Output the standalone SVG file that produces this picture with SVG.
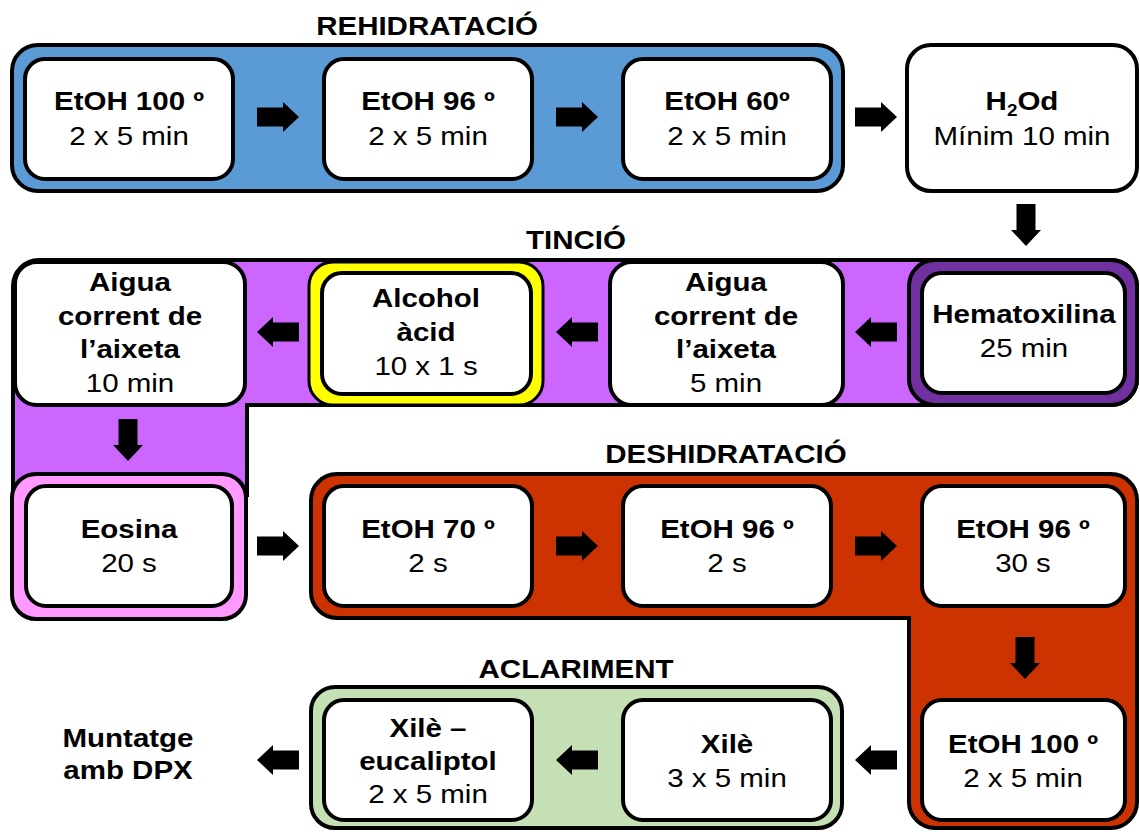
<svg xmlns="http://www.w3.org/2000/svg" xmlns:xlink="http://www.w3.org/1999/xlink" width="1140" height="832" viewBox="0 0 1140 832">
<defs>
<style>
.bx{fill:#fff;stroke:#000;stroke-width:4}
.grp{stroke:#000;stroke-width:4}
text{font-family:"Liberation Sans",Arial,sans-serif;font-size:25px;text-anchor:middle;fill:#000}
.b{font-weight:bold}
.r{font-weight:normal}
.ttl{font-weight:bold}
</style>
<path id="ar" d="M0,-9.5 H26 V-15 L42,0 L26,15 V9.5 H0 Z" fill="#000"/>
</defs>
<rect width="1140" height="832" fill="#fff"/>

<!-- group backgrounds -->
<g id="grp-rehidratacio">
<rect class="grp" x="12" y="45" width="831" height="146" rx="26" fill="#5B9BD5"/>
<g transform="matrix(1.18 0 0 1 427 0)"><text class="ttl" x="0" y="35">REHIDRATACIÓ</text></g>
</g>
<g id="grp-tincio">
<path class="grp" fill="#CC66FF" d="M39,260 H1111 A26,26 0 0 1 1137,286 V379 A26,26 0 0 1 1111,405 H247 V495 H13 V286 A26,26 0 0 1 39,260 Z"/>
<g transform="matrix(1.18 0 0 1 576 0)"><text class="ttl" x="0" y="249">TINCIÓ</text></g>
</g>
<g id="grp-deshidratacio">
<path class="grp" fill="#CC3300" d="M337,474 H1111 A26,26 0 0 1 1137,500 V802 A26,26 0 0 1 1111,828 H935 A26,26 0 0 1 909,802 V618 H337 A26,26 0 0 1 311,592 V500 A26,26 0 0 1 337,474 Z"/>
<g transform="matrix(1.18 0 0 1 726 0)"><text class="ttl" x="0" y="463">DESHIDRATACIÓ</text></g>
</g>
<g id="grp-aclariment">
<rect class="grp" x="311" y="687" width="531" height="141" rx="24" fill="#C5E0B4"/>
<g transform="matrix(1.18 0 0 1 576 0)"><text class="ttl" x="0" y="678">ACLARIMENT</text></g>
</g>

<!-- row 1 -->
<g id="n-etoh100a">
<rect class="bx" x="25" y="59" width="208" height="120" rx="20"/>
<g transform="matrix(1.18 0 0 1 129 0)"><text class="b" x="0" y="110">EtOH 100 º</text><text class="r" x="0" y="145">2 x 5 min</text></g>
</g>
<g id="n-etoh96a">
<rect class="bx" x="324" y="59" width="208" height="120" rx="20"/>
<g transform="matrix(1.18 0 0 1 428 0)"><text class="b" x="0" y="110">EtOH 96 º</text><text class="r" x="0" y="145">2 x 5 min</text></g>
</g>
<g id="n-etoh60">
<rect class="bx" x="623" y="59" width="208" height="120" rx="20"/>
<g transform="matrix(1.18 0 0 1 727 0)"><text class="b" x="0" y="110">EtOH 60º</text><text class="r" x="0" y="145">2 x 5 min</text></g>
</g>
<g id="n-h2od">
<rect class="bx" x="907" y="45" width="230" height="146" rx="24"/>
<g transform="matrix(1.18 0 0 1 1022 0)"><text class="b" x="0" y="110">H<tspan font-size="16" dy="6">2</tspan><tspan dy="-6">Od</tspan></text><text class="r" x="0" y="145">Mínim 10 min</text></g>
</g>

<!-- row 2 -->
<g id="n-aigua10">
<rect class="bx" x="15" y="262" width="230" height="143" rx="22"/>
<g transform="matrix(1.18 0 0 1 130 0)"><text class="b" x="0" y="291">Aigua</text><text class="b" x="0" y="325">corrent de</text><text class="b" x="0" y="358">l’aixeta</text><text class="r" x="0" y="392">10 min</text></g>
</g>
<g id="n-alcohol">
<rect x="309" y="262" width="234" height="143" rx="24" fill="#FFFF00" stroke="#000" stroke-width="3"/>
<rect class="bx" x="322" y="273" width="209" height="121" rx="20"/>
<g transform="matrix(1.18 0 0 1 426 0)"><text class="b" x="0" y="307">Alcohol</text><text class="b" x="0" y="341">àcid</text><text class="r" x="0" y="375">10 x 1 s</text></g>
</g>
<g id="n-aigua5">
<rect class="bx" x="610" y="262" width="233" height="143" rx="22"/>
<g transform="matrix(1.18 0 0 1 726 0)"><text class="b" x="0" y="291">Aigua</text><text class="b" x="0" y="325">corrent de</text><text class="b" x="0" y="358">l’aixeta</text><text class="r" x="0" y="392">5 min</text></g>
</g>
<g id="n-hematoxilina">
<rect class="grp" x="909" y="260" width="228" height="145" rx="26" fill="#7030A0"/>
<rect class="bx" x="922" y="273" width="203" height="120" rx="20"/>
<g transform="matrix(1.18 0 0 1 1024 0)"><text class="b" x="0" y="323">Hematoxilina</text><text class="r" x="0" y="357">25 min</text></g>
</g>

<!-- row 3 -->
<g id="n-eosina">
<rect class="grp" x="12" y="474" width="234" height="145" rx="24" fill="#FF99FF"/>
<rect class="bx" x="26" y="486" width="206" height="120" rx="20"/>
<g transform="matrix(1.18 0 0 1 129 0)"><text class="b" x="0" y="538">Eosina</text><text class="r" x="0" y="572">20 s</text></g>
</g>
<g id="n-etoh70">
<rect class="bx" x="324" y="486" width="208" height="120" rx="20"/>
<g transform="matrix(1.18 0 0 1 428 0)"><text class="b" x="0" y="538">EtOH 70 º</text><text class="r" x="0" y="572">2 s</text></g>
</g>
<g id="n-etoh96b">
<rect class="bx" x="623" y="486" width="208" height="120" rx="20"/>
<g transform="matrix(1.18 0 0 1 727 0)"><text class="b" x="0" y="538">EtOH 96 º</text><text class="r" x="0" y="572">2 s</text></g>
</g>
<g id="n-etoh96c">
<rect class="bx" x="922" y="486" width="203" height="120" rx="20"/>
<g transform="matrix(1.18 0 0 1 1023 0)"><text class="b" x="0" y="538">EtOH 96 º</text><text class="r" x="0" y="572">30 s</text></g>
</g>
<g id="n-etoh100b">
<rect class="bx" x="922" y="700" width="203" height="120" rx="20"/>
<g transform="matrix(1.18 0 0 1 1023 0)"><text class="b" x="0" y="753">EtOH 100 º</text><text class="r" x="0" y="787">2 x 5 min</text></g>
</g>

<!-- row 4 -->
<g id="n-xile">
<rect class="bx" x="623" y="700" width="208" height="120" rx="20"/>
<g transform="matrix(1.18 0 0 1 727 0)"><text class="b" x="0" y="753">Xilè</text><text class="r" x="0" y="787">3 x 5 min</text></g>
</g>
<g id="n-xile-euc">
<rect class="bx" x="324" y="700" width="208" height="120" rx="20"/>
<g transform="matrix(1.18 0 0 1 428 0)"><text class="b" x="0" y="737">Xilè –</text><text class="b" x="0" y="770">eucaliptol</text><text class="r" x="0" y="803">2 x 5 min</text></g>
</g>
<g id="n-muntatge">
<g transform="matrix(1.18 0 0 1 128 0)"><text class="b" x="0" y="747">Muntatge</text><text class="b" x="0" y="779">amb DPX</text></g>
</g>

<!-- connectors -->
<g id="connectors">
<use xlink:href="#ar" transform="translate(257,117)"/>
<use xlink:href="#ar" transform="translate(556,117)"/>
<use xlink:href="#ar" transform="translate(855,117)"/>
<use xlink:href="#ar" transform="translate(1026,204) rotate(90)"/>
<use xlink:href="#ar" transform="translate(897,332) scale(-1,1)"/>
<use xlink:href="#ar" transform="translate(598,332) scale(-1,1)"/>
<use xlink:href="#ar" transform="translate(299,332) scale(-1,1)"/>
<use xlink:href="#ar" transform="translate(128,419) rotate(90)"/>
<use xlink:href="#ar" transform="translate(257,546)"/>
<use xlink:href="#ar" transform="translate(556,546)"/>
<use xlink:href="#ar" transform="translate(855,546)"/>
<use xlink:href="#ar" transform="translate(1025,637) rotate(90)"/>
<use xlink:href="#ar" transform="translate(897,760) scale(-1,1)"/>
<use xlink:href="#ar" transform="translate(598,760) scale(-1,1)"/>
<use xlink:href="#ar" transform="translate(299,760) scale(-1,1)"/>
</g>
</svg>
